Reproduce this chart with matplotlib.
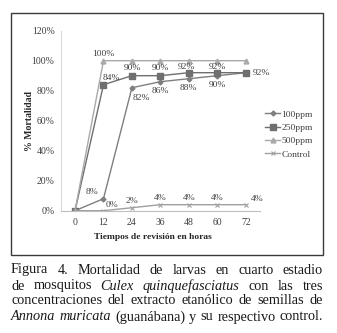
import matplotlib
matplotlib.use("Agg")
import matplotlib.pyplot as plt
from matplotlib.patches import Rectangle

plt.rcParams['font.family'] = ['Liberation Serif', 'DejaVu Serif']

horas = [0, 12, 24, 36, 48, 60, 72]
p100 = [0, 0.08, 0.82, 0.86, 0.88, 0.90, 0.92]
p250 = [0, 0.84, 0.90, 0.90, 0.92, 0.92, 0.92]
p500 = [0, 1.00, 1.00, 1.00, 1.00, 1.00, 1.00]
control = [0, 0.00, 0.02, 0.04, 0.04, 0.04, 0.04]
y_ticks = [0, 0.2, 0.4, 0.6, 0.8, 1.0, 1.2]

W, H = 337, 333
fig = plt.figure(figsize=(W / 100, H / 100), dpi=100)

# marco de la figura
fig.patches.append(Rectangle((11 / W, 1 - 255 / H), 312 / W, 242 / H,
                             transform=fig.transFigure, fill=False,
                             edgecolor='#3a3a3a', linewidth=1.0))

ax = fig.add_axes([60.8 / W, 1 - 210.7 / H, 199.2 / W, 180 / H])
ax.set_xlim(-6, 78)
ax.set_ylim(0, 1.2)

ax.plot(horas, p100, color='#7f7f7f', lw=1.0, marker='D', ms=2.5, label='100ppm')
ax.plot(horas, p250, color='#6f6f6f', lw=1.0, marker='s', ms=4, label='250ppm')
ax.plot(horas, p500, color='#a9a9a9', lw=1.0, marker='^', ms=3.5, label='500ppm')
ax.plot(horas, control, color='#a0a0a0', lw=1.0, marker='x', ms=3.5, mew=0.8, label='Control')

for s in ['top', 'right']:
    ax.spines[s].set_visible(False)
ax.spines['left'].set_color('#d9d9d9')
ax.spines['bottom'].set_color('#bfbfbf')
ax.set_xticks(horas)
ax.set_yticks(y_ticks)
ax.set_yticklabels([f"{int(round(v * 100))}%" for v in y_ticks])
ax.tick_params(length=0, labelsize=7, colors='#404040')
ax.tick_params(axis='y', pad=4.5)
ax.tick_params(axis='x', pad=5)

def etiqueta(x, y, dx, dy):
    ax.annotate(f"{int(round(y * 100))}%", (x, y), xytext=(dx, dy),
                textcoords='offset points', ha='center', va='center',
                fontsize=6.8, color='#404040')

etiqueta(12, p500[1], 0, 5)
etiqueta(12, p250[1], 6, 5)
etiqueta(24, p250[2], 0, 5.5)
etiqueta(36, p250[3], 0, 5.5)
etiqueta(48, p250[4], -2, 4)
etiqueta(60, p250[5], 0, 4)
etiqueta(72, p250[6], 11, 0)
etiqueta(12, p100[1], -8, 5)
etiqueta(24, p100[2], 7, -7.5)
for x, y in zip(horas[3:6], p100[3:6]):
    etiqueta(x, y, 0, -6.5)
etiqueta(12, control[1], 6, 4)
for x, y in zip(horas[2:6], control[2:6]):
    etiqueta(x, y, 0, 5)
etiqueta(72, control[6], 8, 4)

ax.legend(loc='upper left', bbox_to_anchor=(265 / W, 1 - 110 / H),
          bbox_transform=fig.transFigure, frameon=False, fontsize=6.8,
          handlelength=1.6, handletextpad=0.15, labelspacing=0.5,
          borderaxespad=0, borderpad=0, labelcolor='#404040')

fig.text(153 / W, 1 - 237 / H, "Tiempos de revisión en horas", ha='center',
         va='center', fontsize=6.8, fontweight='bold', color='#262626')
fig.text(30 / W, 1 - 121 / H, "% Mortalidad", ha='center', va='center',
         rotation=90, fontsize=7, fontweight='bold', color='#262626')

# pie de figura justificado
pie = [
    [("Figura", False), ("4.", False), ("Mortalidad", False), ("de", False),
     ("larvas", False), ("en", False), ("cuarto", False), ("estadio", False)],
    [("de", False), ("mosquitos", False), ("Culex", True),
     ("quinquefasciatus", True), ("con", False), ("las", False), ("tres", False)],
    [("concentraciones", False), ("del", False), ("extracto", False),
     ("etanólico", False), ("de", False), ("semillas", False), ("de", False)],
    [("Annona", True), ("muricata", True), ("(guanábana)", False), ("y", False),
     ("su", False), ("respectivo", False), ("control.", False)],
]
renglones_y = [270, 286, 301, 317]
x0, x1 = 11, 323
renderer = fig.canvas.get_renderer()
for palabras, yy in zip(pie, renglones_y):
    textos = [fig.text(0, 1 - yy / H, p, fontsize=10.3, color='#1a1a1a',
                       style='italic' if it else 'normal', va='center')
              for p, it in palabras]
    anchos = [t.get_window_extent(renderer).width for t in textos]
    hueco = (x1 - x0 - sum(anchos)) / (len(textos) - 1)
    x = x0
    for t, w in zip(textos, anchos):
        t.set_x(x / W)
        x += w + hueco

fig.savefig("out.png", dpi=100)
